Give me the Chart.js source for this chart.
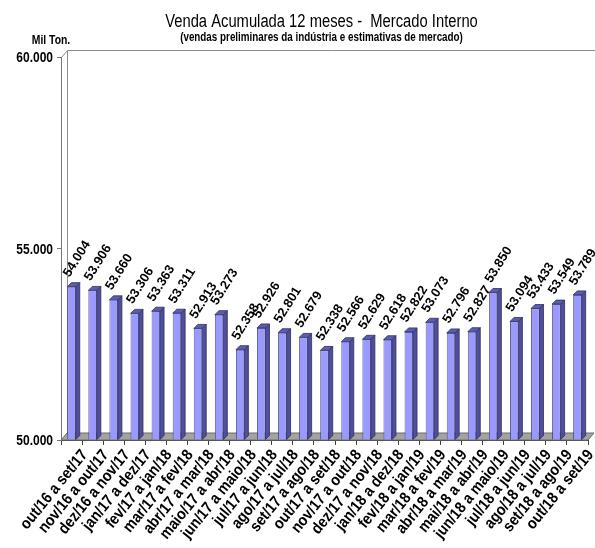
<!DOCTYPE html>
<html>
<head>
<meta charset="utf-8">
<script src="https://cdn.jsdelivr.net/npm/chart.js@4"></script>
<style>
  html, body { margin: 0; padding: 0; background: #fff; }
</style>
</head>
<body>
<canvas id="vendaChart" width="595" height="548"></canvas>
<script>
// --- Data ---
const periodos = [
  'out/16 a set/17', 'nov/16 a out/17', 'dez/16 a nov/17', 'jan/17 a dez/17',
  'fev/17 a jan/18', 'mar/17 a fev/18', 'abr/17 a mar/18', 'maio/17 a abr/18',
  'jun/17 a maio/18', 'jul/17 a jun/18', 'ago/17 a jul/18', 'set/17 a ago/18',
  'out/17 a set/18', 'nov/17 a out/18', 'dez/17 a nov/18', 'jan/18 a dez/18',
  'fev/18 a jan/19', 'mar/18 a fev/19', 'abr/18 a mar/19', 'mai/18 a abr/19',
  'jun/18 a maio/19', 'jul/18 a jun/19', 'ago/18 a jul/19', 'set/18 a ago/19',
  'out/18 a set/19'
];
const vendas = [
  54004, 53906, 53660, 53306, 53363, 53311, 52913, 53273, 52358, 52926,
  52801, 52679, 52338, 52566, 52629, 52618, 52822, 53073, 52796, 52827,
  53850, 53094, 53433, 53549, 53789
];
const yMin = 50000;
const yMax = 60000;
const yStep = 5000;

const titulo = 'Venda Acumulada 12 meses -  Mercado Interno';
const subtitulo = '(vendas preliminares da indústria e estimativas de mercado)';
const unidade = 'Mil Ton.';

// no Arial Narrow here, so squeeze Liberation Sans horizontally
const FONT = "'Liberation Sans', Arial, sans-serif";
const DX = 6, DY = -7;      // wall / floor depth
const BD = 4;               // bar depth

// 54004 -> "54.004"
function fmt(n) {
  return String(n).replace(/\B(?=(\d{3})+(?!\d))/g, '.');
}

function narrowText(ctx, text, x, y, font, align, baseline, angle, squeeze) {
  ctx.save();
  ctx.translate(x, y);
  if (angle) ctx.rotate(-angle * Math.PI / 180);
  ctx.scale(squeeze || 0.82, 1);
  ctx.font = font;
  ctx.fillStyle = '#000';
  ctx.textAlign = align;
  ctx.textBaseline = baseline;
  ctx.fillText(text, 0, 0);
  ctx.restore();
}

// --- Fake 3D frame, bar sides/tops and all text ---
const frame3d = {
  id: 'frame3d',
  beforeDatasetsDraw(chart) {
    const { ctx, chartArea: a } = chart;
    ctx.save();
    ctx.lineWidth = 1;
    // back wall
    ctx.strokeStyle = '#8c8c8c';
    ctx.beginPath();
    ctx.moveTo(a.left + 0.5, a.top + 0.5);
    ctx.lineTo(a.left + DX + 0.5, a.top + DY + 0.5);
    ctx.lineTo(chart.width, a.top + DY + 0.5);
    ctx.moveTo(a.left + DX + 0.5, a.top + DY + 0.5);
    ctx.lineTo(a.left + DX + 0.5, a.bottom + DY);
    ctx.stroke();
    // floor
    ctx.fillStyle = '#a3a3a3';
    ctx.strokeStyle = '#6a6a6a';
    ctx.beginPath();
    ctx.moveTo(a.left, a.bottom);
    ctx.lineTo(a.right, a.bottom);
    ctx.lineTo(a.right + DX, a.bottom + DY);
    ctx.lineTo(a.left + DX, a.bottom + DY);
    ctx.closePath();
    ctx.fill();
    ctx.stroke();
    ctx.restore();
  },
  afterDatasetsDraw(chart) {
    const { ctx } = chart;
    const meta = chart.getDatasetMeta(0);
    ctx.save();
    ctx.strokeStyle = '#2e2e5c';
    ctx.lineWidth = 0.8;
    meta.data.forEach(bar => {
      const l = bar.x - bar.width / 2, r = bar.x + bar.width / 2;
      const t = bar.y, b = bar.base;
      // right side
      ctx.fillStyle = '#4f4f9c';
      ctx.beginPath();
      ctx.moveTo(r, t);
      ctx.lineTo(r + BD, t - BD);
      ctx.lineTo(r + BD, b - BD);
      ctx.lineTo(r, b);
      ctx.closePath();
      ctx.fill();
      ctx.stroke();
      // top
      ctx.fillStyle = '#5c5cb8';
      ctx.beginPath();
      ctx.moveTo(l, t);
      ctx.lineTo(l + BD, t - BD);
      ctx.lineTo(r + BD, t - BD);
      ctx.lineTo(r, t);
      ctx.closePath();
      ctx.fill();
      ctx.stroke();
    });
    ctx.restore();

    // value labels, after all bars so none get covered
    meta.data.forEach((bar, i) => {
      narrowText(ctx, fmt(vendas[i]), bar.x - 2, bar.y - 9,
        'bold 13px ' + FONT, 'left', 'alphabetic', 58, 1);
    });
  },
  afterDraw(chart) {
    const { ctx, chartArea: a } = chart;
    const xs = chart.scales.x, ys = chart.scales.y;
    const cx = (a.left + a.right) / 2 - 3;

    narrowText(ctx, titulo, cx, 22, '18px ' + FONT, 'center', 'middle');
    narrowText(ctx, subtitulo, cx, 38, 'bold 12px ' + FONT, 'center', 'middle');
    narrowText(ctx, unidade, 51, 40, 'bold 13px ' + FONT, 'center', 'middle', 0, 0.8);

    // value axis labels
    ys.ticks.forEach(tk => {
      narrowText(ctx, fmt(tk.value), a.left - 8, ys.getPixelForValue(tk.value) + 1,
        'bold 15px ' + FONT, 'right', 'middle', 0, 0.8);
    });

    // category labels
    periodos.forEach((p, i) => {
      narrowText(ctx, p, xs.getPixelForValue(i) + 7, a.bottom + 7,
        'bold 16px ' + FONT, 'right', 'top', 51, 0.88);
    });
  }
};

const ctx = document.getElementById('vendaChart');

new Chart(ctx, {
  type: 'bar',
  data: {
    labels: periodos,
    datasets: [{
      data: vendas,
      base: yMin,
      backgroundColor: '#9999ff',
      borderColor: '#2e2e5c',
      borderWidth: 0.8,
      barPercentage: 0.4,
      categoryPercentage: 1
    }]
  },
  options: {
    responsive: false,
    animation: false,
    layout: { padding: { top: 57, left: 0, right: 7, bottom: 0 } },
    plugins: {
      legend: { display: false },
      tooltip: { enabled: false },
      title: { display: false }
    },
    scales: {
      x: {
        grid: { offset: true, drawOnChartArea: false, tickLength: 5, color: '#444' },
        border: { display: true, color: '#444' },
        ticks: { display: false, autoSkip: false },
        afterFit: s => { s.height = 108; }
      },
      y: {
        min: yMin,
        max: yMax,
        grid: { drawOnChartArea: false, tickLength: 4, color: '#777' },
        border: { display: true, color: '#777' },
        ticks: { display: false, stepSize: yStep },
        afterFit: s => { s.width = 61; }
      }
    }
  },
  plugins: [frame3d]
});
</script>
</body>
</html>
